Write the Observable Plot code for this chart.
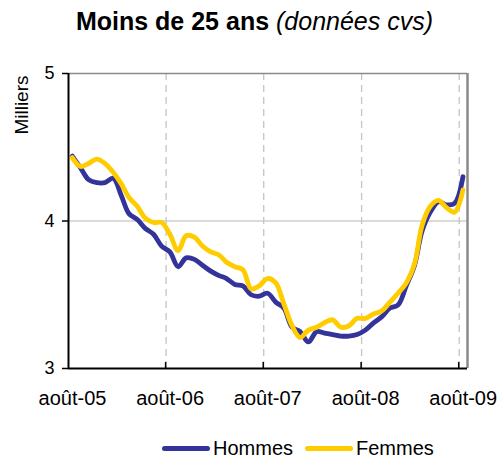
<!DOCTYPE html>
<html>
<head>
<meta charset="utf-8">
<script src="https://cdn.jsdelivr.net/npm/d3@7"></script>
<script src="https://cdn.jsdelivr.net/npm/@observablehq/plot@0.6"></script>
<style>
  html, body { margin: 0; padding: 0; background: #fff; }
  #wrap { position: relative; width: 497px; height: 459px; font-family: "Liberation Sans", Arial, sans-serif; overflow: hidden; }
  #title { position: absolute; left: 6px; width: 497px; top: 6px; text-align: center; font-size: 25px; line-height: 30px; white-space: nowrap; }
  #title b { font-weight: bold; }
  #title i { font-style: italic; }
  #legend { position: absolute; left: 162px; top: 436px; font-size: 20px; line-height: 24px; display: flex; align-items: center; white-space: nowrap; }
  .sw { display: inline-block; width: 48px; height: 5px; border-radius: 3px; margin-right: 3px; }
  #wrap svg { position: absolute; left: 0; top: 0; }
</style>
</head>
<body>
<div id="wrap">
  <div id="title"><b>Moins de 25 ans</b> <i>(données cvs)</i></div>
  <div id="legend"></div>
</div>
<script>
// Monthly series, août-2005 .. août-2009 (49 months), in thousands
const startMonth = "2005-08";
const hommes = [4.44, 4.36, 4.28, 4.26, 4.26, 4.29, 4.17, 4.05, 4.01, 3.95, 3.91, 3.83,
  3.79, 3.69, 3.75, 3.74, 3.70, 3.66, 3.63, 3.61, 3.57, 3.56, 3.50, 3.49,
  3.51, 3.45, 3.41, 3.28, 3.25, 3.18, 3.25, 3.24, 3.23, 3.22, 3.22, 3.23,
  3.26, 3.31, 3.35, 3.41, 3.43, 3.56, 3.70, 3.93, 4.06, 4.13, 4.11, 4.12, 4.30];
const femmes = [4.43, 4.37, 4.39, 4.42, 4.39, 4.33, 4.25, 4.16, 4.10, 4.02, 3.99, 3.99,
  3.91, 3.80, 3.90, 3.89, 3.83, 3.79, 3.77, 3.72, 3.69, 3.67, 3.54, 3.56,
  3.61, 3.58, 3.44, 3.29, 3.21, 3.26, 3.28, 3.31, 3.33, 3.28, 3.29, 3.34,
  3.34, 3.37, 3.39, 3.45, 3.51, 3.58, 3.71, 3.97, 4.10, 4.14, 4.09, 4.06, 4.21];
const seriesNames = ["Hommes", "Femmes"];
const seriesColors = ["#333399", "#FFCC00"];
const xTickDates = ["2005-08-01", "2006-08-01", "2007-08-01", "2008-08-01", "2009-08-01"];
const xTickLabels = ["août-05", "août-06", "août-07", "août-08", "août-09"];
const yTicks = [3, 4, 5];
const yLabel = "Milliers";

const parse = d3.utcParse("%Y-%m-%d");
const ticks = xTickDates.map(parse);
const t0 = d3.utcParse("%Y-%m")(startMonth);
const months = d3.utcMonth.range(t0, d3.utcMonth.offset(t0, hommes.length));
// points plotted mid-month
const mid = d => d3.utcDay.offset(d, 14);
const data = [];
[hommes, femmes].forEach((vals, s) => vals.forEach((v, i) => data.push({date: mid(months[i]), value: v, serie: seriesNames[s]})));

const xDomain = [ticks[0], d3.utcMonth.offset(ticks[ticks.length - 1], 1)];

const innerTicks = (index, scales) => {
  const g = document.createElementNS("http://www.w3.org/2000/svg", "g");
  ticks.slice(1).forEach(t => {
    const l = document.createElementNS("http://www.w3.org/2000/svg", "line");
    const x = scales.x(t), y = scales.y(yTicks[0]);
    l.setAttribute("x1", x); l.setAttribute("x2", x);
    l.setAttribute("y1", y); l.setAttribute("y2", y - 6);
    l.setAttribute("stroke", "#000"); l.setAttribute("stroke-width", 1.5);
    g.appendChild(l);
  });
  return g;
};

const chart = Plot.plot({
  width: 497,
  height: 459,
  marginTop: 73,
  marginBottom: 91,
  marginLeft: 68,
  marginRight: 30,
  style: {fontFamily: "'Liberation Sans', Arial, sans-serif", background: "transparent", overflow: "visible"},
  x: {type: "utc", domain: xDomain},
  y: {domain: [yTicks[0], yTicks[yTicks.length - 1]]},
  color: {domain: seriesNames, range: seriesColors},
  marks: [
    Plot.ruleY([yTicks[1]], {stroke: "#cfcfcf", strokeWidth: 1.5}),
    Plot.ruleX(ticks.slice(1), {stroke: "#c4c4c4", strokeWidth: 1.3, strokeDasharray: "7,5"}),
    Plot.ruleY([yTicks[2]], {stroke: "#8a8a8a", strokeWidth: 1.5}),
    Plot.ruleX([xDomain[1]], {stroke: "#8a8a8a", strokeWidth: 2.5}),
    Plot.line(data, {x: "date", y: "value", z: "serie", stroke: "serie", strokeWidth: 4.8, curve: "catmull-rom", strokeLinejoin: "round", strokeLinecap: "round"}),
    Plot.ruleX([xDomain[0]], {stroke: "#000", strokeWidth: 2}),
    Plot.ruleY([yTicks[0]], {stroke: "#000", strokeWidth: 2}),
    innerTicks,
    Plot.axisY({ticks: yTicks, tickSize: 6, tickPadding: 8, fontSize: 18, tickFormat: d => String(d), label: null, stroke: "#000", strokeWidth: 1.5, fill: "#000"}),
    Plot.axisX({ticks: ticks, tickSize: 0, tickPadding: 22, dx: 4, fontSize: 20, tickFormat: (d, i) => xTickLabels[i], label: null, fill: "#000"}),
    Plot.text([yLabel], {frameAnchor: "top-left", dx: -54, dy: 2, rotate: -90, textAnchor: "end", fontSize: 19, fill: "#000"})
  ]
});
document.getElementById("wrap").appendChild(chart);

const legend = document.getElementById("legend");
seriesNames.forEach((n, i) => {
  const sw = document.createElement("span");
  sw.className = "sw"; sw.style.background = seriesColors[i];
  const lb = document.createElement("span");
  lb.textContent = n; lb.style.marginRight = i === 0 ? "12px" : "0";
  legend.appendChild(sw); legend.appendChild(lb);
});
</script>
</body>
</html>
